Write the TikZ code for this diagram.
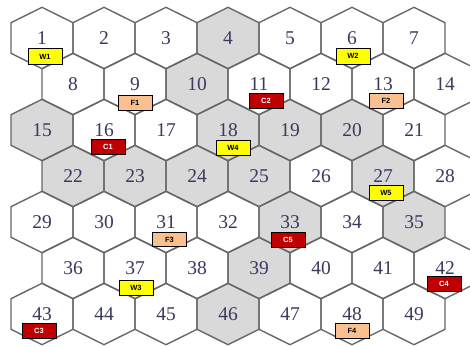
\documentclass[tikz,border=0pt]{standalone}
\usepackage{fontspec}
\setmainfont{Liberation Serif}
\newfontfamily\labfont{Liberation Sans}
\definecolor{hexgray}{HTML}{D9D9D9}
\definecolor{hexline}{HTML}{676767}
\definecolor{numc}{HTML}{3A3A5E}
\definecolor{wcol}{HTML}{FFFF00}
\definecolor{fcol}{HTML}{FAC090}
\definecolor{ccol}{HTML}{C00000}
\begin{document}
\begin{tikzpicture}[x=1pt,y=-1pt,
  hexnum/.style={font=\fontsize{19.5}{19.5}\selectfont, text=numc, inner sep=0pt},
  tagbox/.style={draw=black, line width=0.9pt, minimum width=34pt, minimum height=14.5pt, inner sep=0pt, font=\labfont\bfseries\fontsize{7.5}{7.5}\selectfont},
  wtag/.style={tagbox, fill=wcol},
  ftag/.style={tagbox, fill=fcol},
  ctag/.style={tagbox, fill=ccol, text=white},
  hexcell/.style={draw=hexline, line width=1.4pt, line join=miter},
  hexfill/.style={fill=hexgray}]
\useasboundingbox (0,0) rectangle (470,346);
\fill[white] (0,0) rectangle (470,346);
\begin{scope}
\clip (0,0) rectangle (470,346);
% gray cells
\foreach \n in {4,10,15,18,19,20,22,23,24,25,27,33,35,39,46} {
  \pgfmathtruncatemacro\r{int((\n-1)/7)}
  \pgfmathtruncatemacro\c{mod(\n-1,7)}
  \pgfmathsetmacro\cx{42+62*\c+31*mod(\r,2)}
  \pgfmathsetmacro\cy{38+46*\r}
  \path[hexfill] (\cx,\cy) +(0,-30.67) -- +(31,-15.33) -- +(31,15.33) -- +(0,30.67) -- +(-31,15.33) -- +(-31,-15.33) -- cycle;
}
% outlines and numbers
\foreach \n in {1,...,49} {
  \pgfmathtruncatemacro\r{int((\n-1)/7)}
  \pgfmathtruncatemacro\c{mod(\n-1,7)}
  \pgfmathsetmacro\cx{42+62*\c+31*mod(\r,2)}
  \pgfmathsetmacro\cy{38+46*\r}
  \draw[hexcell] (\cx,\cy) +(0,-30.67) -- +(31,-15.33) -- +(31,15.33) -- +(0,30.67) -- +(-31,15.33) -- +(-31,-15.33) -- cycle;
  \node[hexnum] (h\n) at (\cx,\cy) {\n};
}
\end{scope}
% tags
\node[wtag, minimum height=16.5pt] (w1) at ([xshift=3pt,yshift=-18.5pt]h1.center) {W1};
\node[wtag, minimum height=16pt] (w2) at ([xshift=1pt,yshift=-18pt]h6.center) {W2};
\node[wtag] (w3) at ([xshift=1pt,yshift=-20pt]h37.center) {W3};
\node[wtag] (w4) at ([xshift=5pt,yshift=-18pt]h18.center) {W4};
\node[wtag] (w5) at ([xshift=3pt,yshift=-17pt]h27.center) {W5};
\node[ftag] (f1) at ([xshift=0pt,yshift=-19pt]h9.center) {F1};
\node[ftag] (f2) at ([xshift=3pt,yshift=-17pt]h13.center) {F2};
\node[ftag] (f3) at ([xshift=3.5pt,yshift=-17.5pt]h31.center) {F3};
\node[ftag] (f4) at ([xshift=0pt,yshift=-17pt]h48.center) {F4};
\node[ctag] (c1) at ([xshift=4pt,yshift=-17pt]h16.center) {C1};
\node[ctag] (c2) at ([xshift=7pt,yshift=-17pt]h11.center) {C2};
\node[ctag] (c3) at ([xshift=-3pt,yshift=-17pt]h43.center) {C3};
\node[ctag] (c4) at ([xshift=-1pt,yshift=-16pt]h42.center) {C4};
\node[ctag] (c5) at ([xshift=-2pt,yshift=-18pt]h33.center) {C5};
\end{tikzpicture}
\end{document}
